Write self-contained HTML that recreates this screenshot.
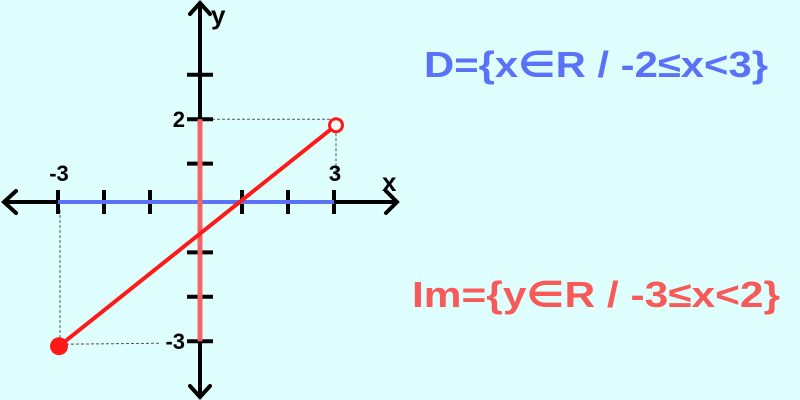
<!DOCTYPE html>
<html><head><meta charset="utf-8"><style>
html,body{margin:0;padding:0;background:#dfffff;}
svg{display:block;font-family:"Liberation Sans","DejaVu Sans",sans-serif;font-weight:bold;}
</style></head><body>
<svg id="chart" width="800" height="400" viewBox="0 0 800 400">
<rect width="800" height="400" fill="#dfffff"/>
<g id="g"></g>
<text x="424" y="77" font-size="36" fill="#5a72f8" textLength="344" lengthAdjust="spacingAndGlyphs">D={x∈R / -2≤x&lt;3}</text>
<text x="412" y="307" font-size="36" fill="#f85a5a" textLength="368" lengthAdjust="spacingAndGlyphs">Im={y∈R / -3≤x&lt;2}</text>
</svg>
<script>
const xTicks=[-3,-2,-1,1,2,3];
const yTicks=[3,2,1,-1,-2,-3];
const xLabels=["-3","3"];const xLabelVals=[-3,3];
const yLabels=["2","-3"];const yLabelVals=[2,-3];
const segStart=[-3,-3];
const segEnd=[3,2];
const domain=[-3,3];
const range=[-3,2];
const X=v=>196+v*46, Y=v=>208-v*44.4;
const AX=200, AY=202;
const ns="http://www.w3.org/2000/svg", g=document.getElementById('g');
function mk(t,a){const e=document.createElementNS(ns,t);for(const k in a)e.setAttribute(k,a[k]);g.appendChild(e);return e;}
let e;
e=mk('line',{x1:X(segStart[0])+2,y1:AY+8,x2:X(segStart[0])+2,y2:Y(segStart[1])+4,stroke:'#555','stroke-dasharray':'3,2','stroke-width':1});

e=mk('line',{x1:X(segStart[0])+8,y1:Y(segStart[1])+3,x2:AX-40,y2:Y(segStart[1])+2,stroke:'#555','stroke-dasharray':'3,2','stroke-width':1});

e=mk('line',{x1:AX+12,y1:Y(segEnd[1]),x2:X(segEnd[0])-4,y2:Y(segEnd[1]),stroke:'#555','stroke-dasharray':'3,2','stroke-width':1});

e=mk('line',{x1:X(segEnd[0])+2,y1:Y(segEnd[1])+14,x2:X(segEnd[0])+2,y2:AY-22,stroke:'#555','stroke-dasharray':'3,2','stroke-width':1});

e=mk('line',{x1:4,y1:AY,x2:396,y2:AY,stroke:'#000','stroke-width':4});

e=mk('polyline',{points:`16,${AY-11} 4,${AY} 16,${AY+11}`,fill:'none',stroke:'#000','stroke-width':4,'stroke-linecap':'round'});

e=mk('polyline',{points:`386,${AY-11} 397,${AY} 386,${AY+11}`,fill:'none',stroke:'#000','stroke-width':4,'stroke-linecap':'round'});

e=mk('line',{x1:AX,y1:3,x2:AX,y2:397,stroke:'#000','stroke-width':4});

e=mk('polyline',{points:`${AX-10},14 ${AX},3 ${AX+10},14`,fill:'none',stroke:'#000','stroke-width':4,'stroke-linecap':'round'});

e=mk('polyline',{points:`${AX-10},386 ${AX},397 ${AX+10},386`,fill:'none',stroke:'#000','stroke-width':4,'stroke-linecap':'round'});

xTicks.forEach(v=>{const t=mk('line',{x1:X(v),y1:AY-12,x2:X(v),y2:AY+12,stroke:'#000','stroke-width':4});
});
yTicks.forEach(v=>{const t=mk('line',{x1:AX-13,y1:Y(v),x2:AX+13,y2:Y(v),stroke:'#000','stroke-width':4});
});
e=mk('line',{x1:X(domain[0]),y1:AY,x2:X(domain[1]),y2:AY,stroke:'#5a72f8','stroke-width':4});

e=mk('line',{x1:AX,y1:Y(range[1]),x2:AX,y2:Y(range[0]),stroke:'#f56464','stroke-width':5});

e=mk('line',{x1:X(segStart[0])+1,y1:Y(segStart[1])+5,x2:X(segEnd[0])+2,y2:Y(segEnd[1])+6,stroke:'#ff1a1a','stroke-width':4});

e=mk('circle',{cx:X(segStart[0])+1,cy:Y(segStart[1])+5,r:9,fill:'#ff1a1a'});

e=mk('circle',{cx:X(segEnd[0])+2,cy:Y(segEnd[1])+6,r:6.5,fill:'#fff',stroke:'#ff1a1a','stroke-width':3});

xLabels.forEach((s,i)=>{const t=mk('text',{x:X(xLabelVals[i])+1,y:AY-21,'font-size':22,'text-anchor':'middle'});t.textContent=s;
});
yLabels.forEach((s,i)=>{const t=mk('text',{x:AX-15,y:Y(yLabelVals[i])+8,'font-size':22,'text-anchor':'end'});t.textContent=s;
});
e=mk('text',{x:382,y:191,'font-size':26});e.textContent='x';

e=mk('text',{x:211,y:24,'font-size':26});e.textContent='y';

</script>
</body></html>
